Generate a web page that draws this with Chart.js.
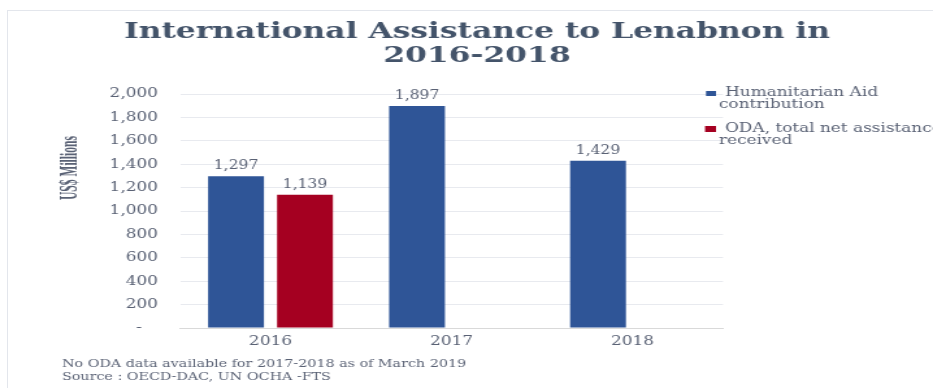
<!DOCTYPE html>
<html>
<head>
<meta charset="utf-8">
<script src="https://cdn.jsdelivr.net/npm/chart.js@4.4.1/dist/chart.umd.min.js"></script>
<style>
  html, body { margin: 0; padding: 0; background: #fff; }
  #wrap { position: relative; width: 933px; height: 388px; overflow: hidden; }
  #frame { position: absolute; left: 7px; top: 10px; width: 1000px; height: 500px; border: 1px solid #E3E6EC; }
  /* the original picture is stretched sideways, so the canvas is too */
  #aidChart { position: absolute; left: 0; top: 0; width: 933px !important; height: 388px !important; }
</style>
</head>
<body>
<div id="wrap"><div id="frame"></div><canvas id="aidChart" width="718" height="388"></canvas></div>
<script>
// --- data ---
const years = ['2016', '2017', '2018'];
const humanitarianAid = [1297, 1897, 1429];
const odaNet = [1139, null, null];
const seriesNames = ['Humanitarian Aid contribution', 'ODA, total net assistance received'];
const seriesColors = ['#2F5597', '#A50021'];
const yTicks = [0, 200, 400, 600, 800, 1000, 1200, 1400, 1600, 1800, 2000];
const titleLines = ['International Assistance to Lenabnon in', '2016-2018'];
const yTitle = 'US$ Millions';
const footnotes = ['No ODA data available for 2017-2018 as of March 2019', 'Source : OECD-DAC, UN OCHA -FTS'];

const SERIF = '"DejaVu Serif", "Liberation Serif", serif';
const TEXT_GREY = '#5A6275';
const S = 933 / 718;   // horizontal stretch of the canvas
const X = px => px / S; // page x -> canvas x

const fmt = v => v.toLocaleString('en-US');

// --- extras drawn on the canvas: title, axis title, legend, labels, notes ---
const decorations = {
    id: 'decorations',
    afterDraw(chart) {
        const c = chart.ctx;
        c.save();

        // title
        c.fillStyle = '#44546A';
        c.font = 'bold 23px ' + SERIF;
        c.textAlign = 'center';
        c.textBaseline = 'middle';
        const tw = c.measureText(titleLines[0]).width;
        c.save();
        c.translate(X(477), 0);
        c.scale(X(706) / tw, 1);
        c.fillText(titleLines[0], 0, 32);
        c.fillText(titleLines[1], 0, 56);
        c.restore();

        // y axis title, squeezed like the original
        c.save();
        c.font = 'bold 18px "Liberation Serif", serif';
        c.fillStyle = TEXT_GREY;
        const w = c.measureText(yTitle).width;
        c.translate(X(71), 168);
        c.rotate(-Math.PI / 2);
        c.scale(64 / w, 1);
        c.fillText(yTitle, 0, 0);
        c.restore();

        // value labels above bars
        c.font = '12px ' + SERIF;
        c.fillStyle = TEXT_GREY;
        c.textAlign = 'center';
        c.textBaseline = 'bottom';
        chart.data.datasets.forEach((ds, i) => {
            chart.getDatasetMeta(i).data.forEach((bar, j) => {
                if (ds.data[j] == null) return;
                c.fillText(fmt(ds.data[j]), bar.x, bar.y - 4);
            });
        });

        // legend (wrapped, hanging indent)
        c.font = '13px ' + SERIF;
        c.textAlign = 'left';
        c.textBaseline = 'middle';
        let y = 93;
        chart.data.datasets.forEach((ds, i) => {
            const words = ds.label.split(' ');
            const lines = [];
            let cur = '';
            words.forEach(wd => {
                const test = cur ? cur + ' ' + wd : wd;
                if (cur && c.measureText(test).width > 185) { lines.push(cur); cur = wd; }
                else cur = test;
            });
            lines.push(cur);
            c.fillStyle = ds.backgroundColor;
            if (i === 0) c.fillRect(X(706), y - 2, X(10), 5);
            else c.fillRect(X(705), y - 3, X(11), 6);
            c.fillStyle = TEXT_GREY;
            lines.forEach((ln, k) => {
                c.fillText(ln, k === 0 ? X(725) : X(719), y + k * 12);
            });
            y += 36;
        });

        // footnotes
        c.font = '11px ' + SERIF;
        c.fillStyle = TEXT_GREY;
        footnotes.forEach((t, k) => c.fillText(t, X(62), 364 + k * 13));

        c.restore();
    }
};

new Chart(document.getElementById('aidChart'), {
    type: 'bar',
    data: {
        labels: years,
        datasets: [
            { label: seriesNames[0], data: humanitarianAid, backgroundColor: seriesColors[0] },
            { label: seriesNames[1], data: odaNet, backgroundColor: seriesColors[1] }
        ]
    },
    options: {
        responsive: false,
        animation: false,
        layout: { padding: { top: 94, right: 718 - X(723), bottom: 0, left: 0 } },
        categoryPercentage: 0.762,
        barPercentage: 0.81,
        scales: {
            x: {
                grid: { display: false, drawTicks: false },
                border: { color: '#D9D9D9' },
                ticks: { color: TEXT_GREY, font: { family: SERIF, size: 13 }, padding: 6 },
                afterFit(scale) { scale.height = 60; }
            },
            y: {
                min: 0,
                max: 2000,
                afterBuildTicks(scale) { scale.ticks = yTicks.map(v => ({ value: v })); },
                grid: { color: '#E8EAEF', drawTicks: false },
                border: { display: false },
                ticks: {
                    color: TEXT_GREY,
                    font: { family: SERIF, size: 13 },
                    padding: X(22),
                    callback: v => v === 0 ? '-   ' : fmt(v)
                },
                afterFit(scale) { scale.width = X(180); }
            }
        },
        plugins: {
            legend: { display: false },
            title: { display: false },
            tooltip: { enabled: false }
        }
    },
    plugins: [decorations]
});
</script>
</body>
</html>
